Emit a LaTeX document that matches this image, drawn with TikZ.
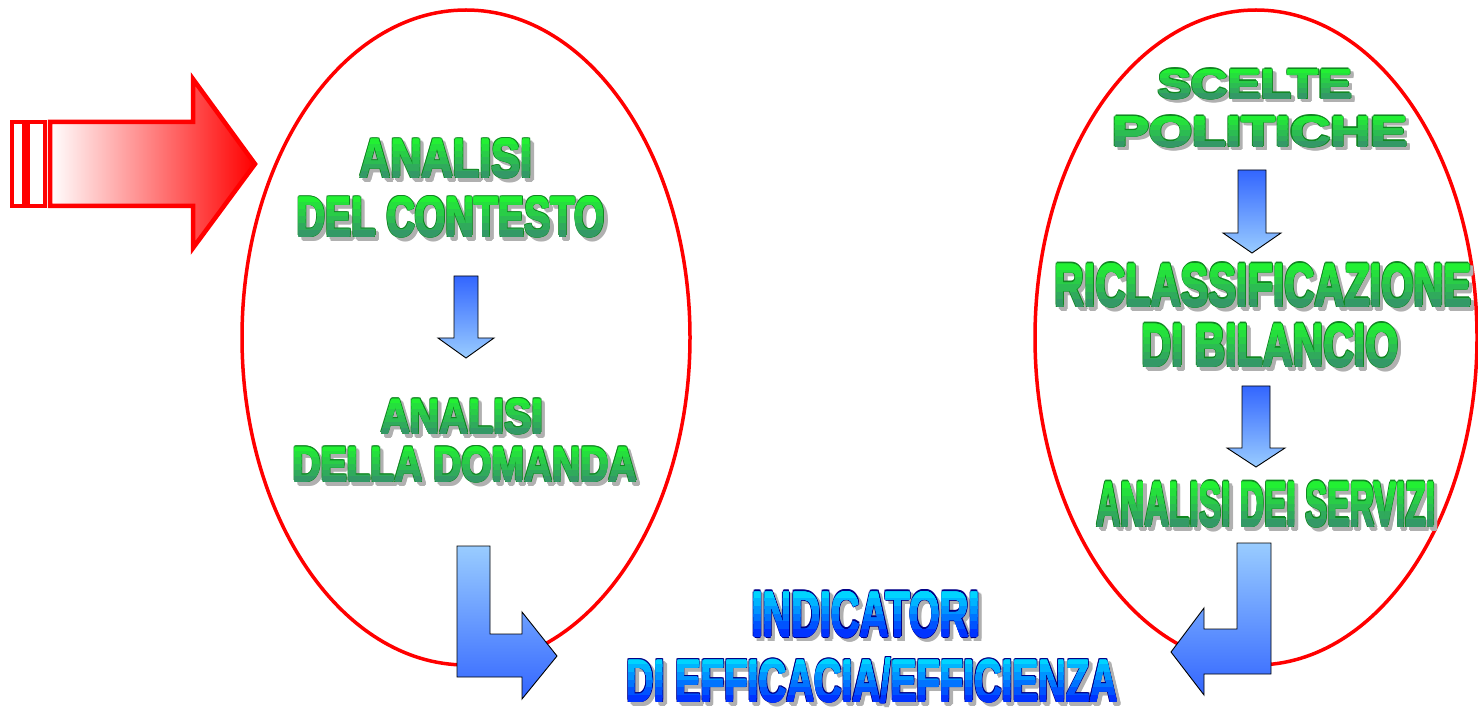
\documentclass[tikz,border=0pt]{standalone}
\usepackage{fontspec}
\setmainfont{Liberation Sans}
\usepackage{graphicx}
\usepackage{contour}
\contournumber{8}
\usetikzlibrary{calc}
\definecolor{gA}{HTML}{22F033}
\definecolor{gB}{HTML}{339966}
\definecolor{gO}{HTML}{118822}
\definecolor{bA}{HTML}{00D4FF}
\definecolor{bB}{HTML}{0033FF}
\definecolor{bO}{HTML}{000088}
\definecolor{shadowgray}{HTML}{B0B0B0}
\definecolor{dblue}{HTML}{3366FF}
\definecolor{lblue}{HTML}{99CCFF}
\tikzset{
  ell/.style={draw=red, line width=3.5pt},
  bluearrow/.style={draw=black, line width=0.9pt, top color=dblue, bottom color=lblue},
  blueL/.style={draw=black, line width=0.9pt, top color=lblue, bottom color=dblue},
  redarrow/.style={draw=red, line width=4.5pt, left color=white, right color=red},
  redbar/.style={draw=red, line width=3.5pt, fill=white},
  wa/.style={inner sep=0pt, outer sep=0pt},
}
\newcommand\wordart[6]{%
  \node[wa, text=shadowgray] (#1s) at ($#2+(3.5,3.5)$) {\resizebox{#3pt}{#4pt}{\contourlength{1.3pt}\contour{shadowgray}{#5}}};
  \node[wa, text=#6O] (#1) at #2 {\resizebox{#3pt}{#4pt}{\contourlength{1.3pt}\contour{#6O}{#5}}};
  \foreach \i in {0,...,5}{%
    \pgfmathtruncatemacro\pct{\i*20}%
    \begin{scope}
      \clip ($(#1.north west)!{\i/6}!(#1.south west)+(-6,-1)$) rectangle ($(#1.north east)!{(\i+1)/6}!(#1.south east)+(6,1)$);
      \node[wa, text=#6B!\pct!#6A] at #2 {\resizebox{#3pt}{#4pt}{\contourlength{0.45pt}\contour{#6B!\pct!#6A}{#5}}};
    \end{scope}}%
}
\begin{document}
\begin{tikzpicture}[x=1pt, y=-1pt, font=\fontsize{40}{40}\selectfont\bfseries]
\useasboundingbox (0,0) rectangle (1478,708);

% ellipses
\draw[ell] (466,337.5) ellipse [x radius=224, y radius=327.5];
\draw[ell] (1256,337.5) ellipse [x radius=221, y radius=327.5];

% red input arrow
\draw[redbar] (12,122) rectangle (24,206);
\draw[redbar] (28,122) rectangle (45,206);
\path[redarrow] (50,122) -- (193,122) -- (193,79) -- (255,164) -- (193,248) -- (193,206) -- (50,206) -- cycle;

% small down arrows
\path[bluearrow] (454,276) -- (478,276) -- (478,338) -- (494,338) -- (466,358) -- (438,338) -- (454,338) -- cycle;
\path[bluearrow] (1238,170) -- (1266,170) -- (1266,233) -- (1281,233) -- (1252,253) -- (1223,233) -- (1238,233) -- cycle;
\path[bluearrow] (1242,386) -- (1270,386) -- (1270,448) -- (1285,448) -- (1256,467) -- (1227,448) -- (1242,448) -- cycle;

% L arrows
\path[blueL] (457,546) -- (490,546) -- (490,634) -- (522,634) -- (522,612) -- (557,656) -- (522,699) -- (522,677) -- (457,677) -- cycle;
\path[blueL] (1271,543) -- (1237,543) -- (1237,629) -- (1204,629) -- (1204,608) -- (1171,652) -- (1204,695) -- (1204,674) -- (1271,674) -- cycle;

% texts
\wordart{t1}{(446,159)}{173}{38}{ANALISI}{g}
\wordart{t2}{(451,217.5)}{308}{39}{DEL CONTESTO}{g}
\wordart{t3}{(462,417)}{162}{34}{ANALISI}{g}
\wordart{t4}{(465,465)}{344}{34}{DELLA DOMANDA}{g}
\wordart{t5}{(1255,84.5)}{194}{29}{SCELTE}{g}
\wordart{t6}{(1260,132)}{295}{30}{POLITICHE}{g}
\wordart{t7}{(1263,286)}{417}{42}{RICLASSIFICAZIONE}{g}
\wordart{t8}{(1270,346)}{257}{42}{DI BILANCIO}{g}
\wordart{t9}{(1266,505)}{339}{44}{ANALISI DEI SERVIZI}{g}
\wordart{t10}{(866,615)}{228}{45}{INDICATORI}{b}
\wordart{t11}{(872,681)}{491}{43}{DI EFFICACIA/EFFICIENZA}{b}
\end{tikzpicture}
\end{document}
